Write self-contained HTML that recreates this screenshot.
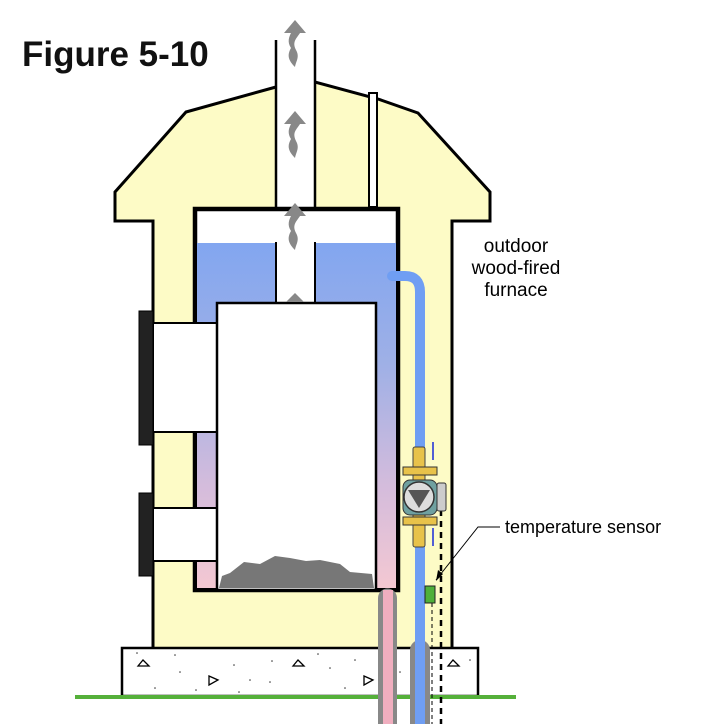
<!DOCTYPE html>
<html><head><style>body{margin:0;background:#fff}svg{display:block}</style></head><body>
<svg width="702" height="724" viewBox="0 0 702 724" xmlns="http://www.w3.org/2000/svg">
<defs>
<linearGradient id="wg" x1="0" y1="243" x2="0" y2="590" gradientUnits="userSpaceOnUse">
<stop offset="0" stop-color="#82a6f0"/><stop offset="0.35" stop-color="#9fb0e6"/><stop offset="0.7" stop-color="#d4bcdc"/><stop offset="1" stop-color="#f4c8d2"/></linearGradient>
<g id="arr"><path d="M-11,13 L0,0 L11,13 L5,13 C1,19 -3,22 1,30 C5,37 1,41 0,47 C-7,40 -8,35 -4,28 C-8,22 -6,17 -4,13 Z" fill="#888"/></g>
</defs>
<text x="22" y="66" font-family="'Liberation Sans',sans-serif" font-weight="bold" font-size="35" fill="#111">Figure 5-10</text>
<path d="M276,87 L186,112 L115,192 L115,221 L153,221 L153,650 L452,650 L452,221 L490,221 L490,192 L418,113 L378,99 L315,82 Z" fill="#fdfbc6" stroke="#000" stroke-width="3"/>
<rect x="276" y="40" width="39" height="175" fill="#fff"/>
<line x1="276" y1="40" x2="276" y2="207" stroke="#000" stroke-width="2.5"/>
<line x1="315" y1="40" x2="315" y2="207" stroke="#000" stroke-width="2.5"/>
<rect x="369" y="93" width="8" height="114" fill="#fff" stroke="#000" stroke-width="2"/>
<rect x="195" y="209" width="203" height="381" fill="#fff" stroke="#000" stroke-width="4.5"/>
<rect x="197" y="243" width="199" height="345" fill="url(#wg)"/>
<rect x="276" y="243" width="39" height="62" fill="#fff" stroke="#000" stroke-width="2"/>
<rect x="277" y="241" width="37" height="6" fill="#fff"/>
<rect x="153" y="323" width="64" height="109" fill="#fff" stroke="#000" stroke-width="2"/>
<rect x="153" y="508" width="64" height="53" fill="#fff" stroke="#000" stroke-width="2"/>
<rect x="139" y="311" width="14" height="134" fill="#222" stroke="#000"/>
<rect x="139" y="493" width="14" height="83" fill="#222" stroke="#000"/>
<rect x="217" y="303" width="159" height="287" fill="#fff" stroke="#000" stroke-width="2.5"/>
<path d="M219,588 L222,576 L230,573 L244,562 L260,564 L275,556 L290,558 L306,561 L320,560 L340,564 L350,572 L372,574 L374,588 Z" fill="#777"/>
<use href="#arr" x="295" y="20"/>
<use href="#arr" x="295" y="111"/>
<use href="#arr" x="295" y="203"/>
<path d="M286,302 L295,293 L304,302 Z" fill="#888"/>
<rect x="122" y="648" width="356" height="48" fill="#fff" stroke="#000" stroke-width="2.5"/>
<g fill="none" stroke="#000" stroke-width="1.3">
<path d="M138,666 L143,660 L149,666 Z"/><path d="M293,666 L298,660 L304,666 Z"/><path d="M448,666 L453,660 L459,666 Z"/>
<path d="M209,676 L218,680 L209,685 Z"/><path d="M364,676 L373,680 L364,685 Z"/>
</g>
<g fill="#333">
<circle cx="137" cy="653" r="0.8"/><circle cx="175" cy="655" r="0.8"/><circle cx="180" cy="672" r="0.8"/><circle cx="196" cy="690" r="0.8"/><circle cx="234" cy="665" r="0.8"/><circle cx="250" cy="680" r="0.8"/><circle cx="272" cy="661" r="0.8"/><circle cx="239" cy="692" r="0.8"/><circle cx="330" cy="668" r="0.8"/><circle cx="345" cy="688" r="0.8"/><circle cx="318" cy="654" r="0.8"/><circle cx="355" cy="660" r="0.8"/><circle cx="400" cy="672" r="0.8"/><circle cx="470" cy="660" r="0.8"/><circle cx="155" cy="688" r="0.8"/><circle cx="270" cy="682" r="0.8"/>
</g>
<line x1="75" y1="697" x2="516" y2="697" stroke="#55b03a" stroke-width="4"/>
<path d="M378,724 L378,598 A9.5,9.5 0 0 1 397,598 L397,724 Z" fill="#888"/>
<rect x="383" y="590" width="10" height="134" fill="#f0aebf" />
<path d="M410,724 L410,650 A10,10 0 0 1 430,650 L430,724 Z" fill="#888"/>
<path d="M392,276 L405,276 Q420,276 420,292 L420,724" fill="none" stroke="#6f9ef3" stroke-width="10" stroke-linecap="round"/>
<line x1="441" y1="510" x2="441" y2="724" stroke="#000" stroke-width="2.5" stroke-dasharray="6,5"/>
<line x1="432" y1="603" x2="432" y2="724" stroke="#000" stroke-width="1" stroke-dasharray="4,3"/>
<rect x="413" y="447" width="12" height="100" rx="2" fill="#e8c24a" stroke="#444" stroke-width="1"/>
<rect x="403" y="467" width="34" height="8" fill="#e8c24a" stroke="#333" stroke-width="1"/>
<rect x="403" y="517" width="34" height="8" fill="#e8c24a" stroke="#333" stroke-width="1"/>
<rect x="403" y="480" width="34" height="35" rx="7" fill="#6fa0a0" stroke="#333"/>
<circle cx="419" cy="497" r="15" fill="#ddd" stroke="#333" stroke-width="1.5"/>
<path d="M408,490 L430,490 L419,508 Z" fill="#555"/>
<rect x="437" y="483" width="9" height="28" rx="2" fill="#ccc" stroke="#333"/>
<path d="M433,442 L433,460 M433,528 L433,546" stroke="#1a2ad8" stroke-width="1.5"/>
<rect x="425" y="586" width="10" height="17" fill="#4fb03a" stroke="#222"/>
<polyline points="500,527 478,527 436,580" fill="none" stroke="#000" stroke-width="1"/>
<path d="M436,581 L438,570 L443,574 Z" fill="#000"/>
<g font-family="'Liberation Sans',sans-serif" font-size="19" fill="#000" text-anchor="middle">
<text x="516" y="252">outdoor</text>
<text x="516" y="274">wood-fired</text>
<text x="516" y="296">furnace</text>
</g>
<text x="505" y="533" font-family="'Liberation Sans',sans-serif" font-size="18" fill="#000">temperature sensor</text>
</svg>
</body></html>
